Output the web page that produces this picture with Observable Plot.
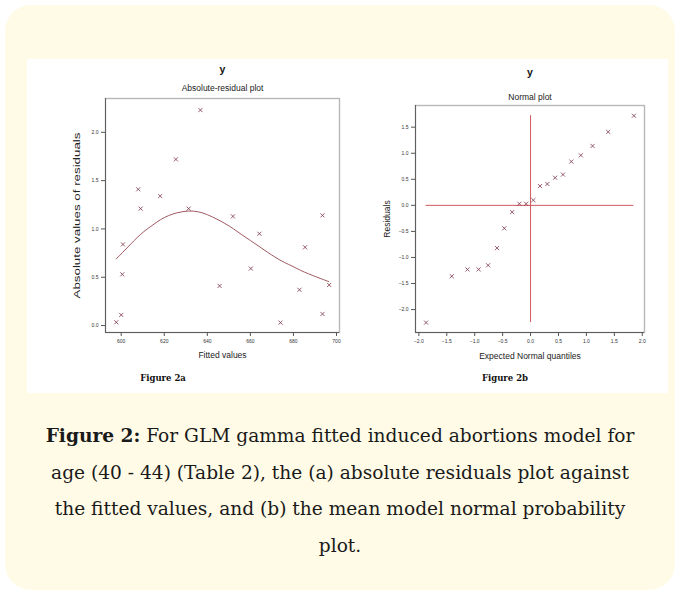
<!DOCTYPE html>
<html>
<head>
<meta charset="utf-8">
<script src="https://cdn.jsdelivr.net/npm/d3@7"></script>
<script src="https://cdn.jsdelivr.net/npm/@observablehq/plot@0.6"></script>
<style>
  html, body { margin: 0; padding: 0; background: #ffffff; }
  #page { position: relative; width: 675px; height: 593px; overflow: hidden; }
  #card { position: absolute; left: 5px; top: 5px; width: 670px; height: 585px; background: #fffbe6; border-radius: 26px; }
  #inner { position: absolute; left: 27px; top: 59px; width: 641px; height: 334px; background: #ffffff; }
  .plot { position: absolute; }
  .fig { position: absolute; top: 373px; font-family: "DejaVu Serif", serif; font-weight: bold; font-size: 8.5px; color: #111; transform: translateX(-50%); white-space: nowrap; }
  #caption { position: absolute; left: 5px; width: 670px; top: 418px; text-align: center; font-family: "DejaVu Serif", serif; font-size: 18.6px; line-height: 36.5px; color: #1a1a1a; white-space: nowrap; }
</style>
</head>
<body>
<div id="page">
  <div id="card"></div>
  <div id="inner"></div>
  <div id="left" class="plot" style="left:40px; top:60px;"></div>
  <div id="right" class="plot" style="left:350px; top:60px;"></div>
  <div class="fig" style="left:163px;">Figure 2a</div>
  <div class="fig" style="left:505px;">Figure 2b</div>
  <div id="caption"><b>Figure 2:</b> For GLM gamma fitted induced abortions model for<br>age (40 - 44) (Table 2), the (a) absolute residuals plot against<br>the fitted values, and (b) the mean model normal probability<br>plot.</div>
</div>
<script>
// Figure 2a: absolute residuals vs fitted values
const fitted = [597.7, 600.0, 600.5, 600.8, 607.9, 609.0, 618.1, 625.4, 631.3, 636.8, 645.7, 651.9, 660.2, 664.2, 674.0, 682.8, 685.4, 693.5, 693.5, 696.6];
const absResid = [0.034, 0.11, 0.53, 0.84, 1.41, 1.21, 1.34, 1.72, 1.21, 2.23, 0.41, 1.13, 0.59, 0.95, 0.03, 0.37, 0.81, 1.14, 0.12, 0.42];
// smoother curve
const smoothX = [597.7, 603, 609, 614, 618.3, 622, 626, 631.4, 636, 640, 644.6, 648, 652.3, 656, 660, 664, 667.8, 672, 675.5, 680, 683.3, 687, 691, 694, 696.4];
const smoothY = [0.69, 0.81, 0.95, 1.03, 1.10, 1.14, 1.17, 1.19, 1.18, 1.15, 1.10, 1.06, 1.00, 0.94, 0.88, 0.82, 0.76, 0.70, 0.655, 0.61, 0.57, 0.535, 0.50, 0.475, 0.455];
const ticksXa = [600, 620, 640, 660, 680, 700];
const ticksYa = [0, 0.5, 1.0, 1.5, 2.0];

// Figure 2b: normal plot
const quantiles = [-1.87, -1.41, -1.13, -0.93, -0.76, -0.60, -0.47, -0.33, -0.20, -0.08, 0.05, 0.17, 0.30, 0.44, 0.58, 0.73, 0.90, 1.11, 1.39, 1.85];
const residuals = [-2.25, -1.36, -1.23, -1.23, -1.15, -0.82, -0.44, -0.13, 0.03, 0.03, 0.10, 0.37, 0.41, 0.53, 0.59, 0.84, 0.96, 1.14, 1.41, 1.72];
const ticksXb = [-2.0, -1.5, -1.0, -0.5, 0.0, 0.5, 1.0, 1.5, 2.0];
const ticksYb = [-2.0, -1.5, -1.0, -0.5, 0.0, 0.5, 1.0, 1.5];

const ptsA = fitted.map((x, i) => ({x, y: absResid[i]}));
const curveA = smoothX.map((x, i) => ({x, y: smoothY[i]}));
const ptsB = quantiles.map((x, i) => ({x, y: residuals[i]}));

const markerColor = "#7e3346";
const fontBase = {fontFamily: "Liberation Sans, Arial, sans-serif", fontSize: "5px", color: "#333", background: "transparent", overflow: "visible"};

function panel({data, curve, xDomain, yDomain, xTicks, yTicks, xFmt, yFmt, title, subtitle, xLabel, yLabel, mt, mb, ml, mr, dyTitle, dySub, dxY, dyX, refs, yLabelLen, yLabelSize}) {
  const marks = [
    Plot.frame({stroke: "#b8b8b8", strokeWidth: 1.4}),
    Plot.ruleX([xDomain[0]], {stroke: "#555", strokeWidth: 0.9}),
    Plot.ruleY([yDomain[0]], {stroke: "#555", strokeWidth: 0.9}),
    Plot.axisX({ticks: xTicks, tickFormat: xFmt, tickSize: 4, tickPadding: 3, label: null, stroke: "#555", fill: "#333"}),
    Plot.axisY({ticks: yTicks, tickFormat: yFmt, tickSize: 4, tickPadding: 3, label: null, stroke: "#555", fill: "#333"}),
  ];
  if (refs) {
    const xe = d3.extent(data, d => d.x);
    const ye = d3.extent(data, d => d.y);
    marks.push(Plot.ruleY([0], {x1: () => xe[0], x2: () => xe[1], stroke: "#d0585a", strokeWidth: 1}));
    marks.push(Plot.ruleX([0], {y1: () => ye[0], y2: () => ye[1], stroke: "#d0585a", strokeWidth: 1}));
  }
  if (curve) marks.push(Plot.line(curve, {x: "x", y: "y", stroke: "#a05a60", strokeWidth: 1, curve: "basis"}));
  marks.push(Plot.dot(data, {x: "x", y: "y", symbol: "times", r: 2, stroke: markerColor, strokeWidth: 0.8}));
  marks.push(Plot.text([title], {frameAnchor: "top", dy: dyTitle, lineAnchor: "middle", fontSize: 10.5, fill: "#111", fontWeight: "bold"}));
  marks.push(Plot.text([subtitle], {frameAnchor: "top", dy: dySub, lineAnchor: "middle", fontSize: 8.5, fill: "#222"}));
  marks.push(Plot.text([xLabel], {frameAnchor: "bottom", dy: dyX, lineAnchor: "middle", fontSize: 8.5, fill: "#222"}));
  marks.push(Plot.text([yLabel], {frameAnchor: "left", dx: dxY, rotate: -90, textAnchor: "middle", lineAnchor: "middle", fontSize: yLabelSize, fill: "#222"}));
  const svg = Plot.plot({
    width: 310, height: 310,
    marginTop: mt, marginBottom: mb, marginLeft: ml, marginRight: mr,
    style: fontBase,
    x: {domain: xDomain},
    y: {domain: yDomain},
    marks
  });
  if (yLabelLen) {
    svg.querySelectorAll("text").forEach(t => {
      if (t.textContent === yLabel) {
        t.setAttribute("textLength", yLabelLen);
        t.setAttribute("lengthAdjust", "spacingAndGlyphs");
      }
    });
  }
  return svg;
}

document.getElementById("left").append(panel({
  data: ptsA, curve: curveA,
  xDomain: [592.7, 701.4], yDomain: [-0.072, 2.35],
  xTicks: ticksXa, yTicks: ticksYa, xFmt: d3.format("d"), yFmt: d3.format(".1f"),
  title: "y", subtitle: "Absolute-residual plot", xLabel: "Fitted values", yLabel: "Absolute values of residuals",
  mt: 38, mb: 38, ml: 65, mr: 11, dyTitle: -29, dySub: -10, dxY: -29, dyX: 23, refs: false, yLabelLen: 166, yLabelSize: 9.5
}));

document.getElementById("right").append(panel({
  data: ptsB, curve: null,
  xDomain: [-2.06, 2.04], yDomain: [-2.44, 1.916],
  xTicks: ticksXb, yTicks: ticksYb, xFmt: d3.format(".1f"), yFmt: d3.format(".1f"),
  title: "y", subtitle: "Normal plot", xLabel: "Expected Normal quantiles", yLabel: "Residuals",
  mt: 45, mb: 38, ml: 65, mr: 16, dyTitle: -33, dySub: -8, dxY: -28, dyX: 24, refs: true, yLabelLen: null, yLabelSize: 8.5
}));
</script>
</body>
</html>
